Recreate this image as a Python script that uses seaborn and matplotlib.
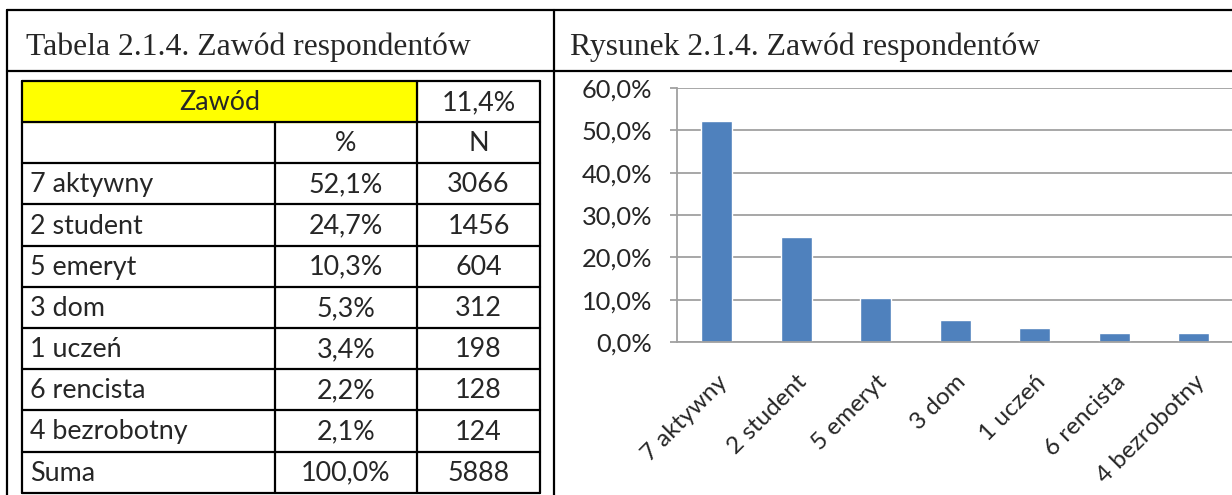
import numpy as np
import matplotlib
matplotlib.use("Agg")
import matplotlib.pyplot as plt
import seaborn as sns
from matplotlib.ticker import FuncFormatter

# data
categories = ["7 aktywny", "2 student", "5 emeryt", "3 dom", "1 uczeń", "6 rencista", "4 bezrobotny"]
percent = [52.1, 24.7, 10.3, 5.3, 3.4, 2.2, 2.1]
counts = [3066, 1456, 604, 312, 198, 128, 124]
total_label = "Suma"
total_percent = 100.0
total_count = 5888
header_label = "Zawód"
header_share = "11,4%"
table_title = "Tabela 2.1.4. Zawód respondentów"
chart_title = "Rysunek 2.1.4. Zawód respondentów"


def pl_pct(v):
    return f"{v:.1f}%".replace(".", ",")


sns.set_theme(style="white")
plt.rcParams["font.family"] = ["Lato", "DejaVu Sans"]

W, H = 1232, 495
fig = plt.figure(figsize=(W / 100, H / 100), dpi=100)

# background axes in pixel coordinates for the page layout
bg = fig.add_axes([0, 0, 1, 1])
bg.set_xlim(0, W)
bg.set_ylim(H, 0)
bg.axis("off")

lw = 1.6
# outer frame
bg.plot([7, 7], [10, H], color="black", lw=lw)
bg.plot([7, W], [10, 10], color="black", lw=lw)
bg.plot([7, W], [71, 71], color="black", lw=lw)
bg.plot([554, 554], [10, H], color="black", lw=lw)

bg.text(26, 47, table_title, family="Liberation Serif", fontsize=22.8, va="center", ha="left")
bg.text(570, 47, chart_title, family="Liberation Serif", fontsize=22.8, va="center", ha="left")

# inner table
cols = [22, 275, 417, 540]
row_y = [81, 122] + [122 + 41.2 * (i + 1) for i in range(9)]
bg.fill_between([cols[0], cols[2]], row_y[0], row_y[1], color="#FFFF00", zorder=0)
for y in row_y:
    bg.plot([cols[0], cols[3]], [y, y], color="black", lw=lw)
bg.plot([cols[0], cols[0]], [row_y[0], row_y[-1]], color="black", lw=lw)
bg.plot([cols[3], cols[3]], [row_y[0], row_y[-1]], color="black", lw=lw)
bg.plot([cols[2], cols[2]], [row_y[0], row_y[-1]], color="black", lw=lw)
bg.plot([cols[1], cols[1]], [row_y[1], row_y[-1]], color="black", lw=lw)

fs = 19.4
def mid(i):
    return (row_y[i] + row_y[i + 1]) / 2 + 1

bg.text((cols[0] + cols[2]) / 2, mid(0), header_label, ha="center", va="center", fontsize=fs)
bg.text((cols[2] + cols[3]) / 2, mid(0), header_share, ha="center", va="center", fontsize=fs)
bg.text((cols[1] + cols[2]) / 2, mid(1), "%", ha="center", va="center", fontsize=fs)
bg.text((cols[2] + cols[3]) / 2, mid(1), "N", ha="center", va="center", fontsize=fs)
rows = list(zip(categories, percent, counts)) + [(total_label, total_percent, total_count)]
for i, (name, p, n) in enumerate(rows):
    r = i + 2
    bg.text(cols[0] + 8, mid(r), name, ha="left", va="center", fontsize=fs)
    bg.text((cols[1] + cols[2]) / 2, mid(r), pl_pct(p), ha="center", va="center", fontsize=fs)
    bg.text((cols[2] + cols[3]) / 2, mid(r), str(n), ha="center", va="center", fontsize=fs)

# bar chart
ax_l, ax_r, ax_t, ax_b = 677, 1233.5, 88, 342
ax = fig.add_axes([ax_l / W, (H - ax_b) / H, (ax_r - ax_l) / W, (ax_b - ax_t) / H])
sns.barplot(x=categories, y=percent, color="#4F81BD", saturation=1, width=0.39, ax=ax)
ax.set_xlim(-0.5, len(categories) - 0.5)
ax.set_ylim(0, 60)
ax.set_yticks(np.arange(0, 61, 10))
ax.yaxis.set_major_formatter(FuncFormatter(lambda v, _: pl_pct(v)))
grid_c = "#A0A0A0"
ax.yaxis.grid(True, color=grid_c, lw=1.3)
ax.set_axisbelow(True)
for s in ["top", "right"]:
    ax.spines[s].set_visible(False)
for s in ["left", "bottom"]:
    ax.spines[s].set_color(grid_c)
    ax.spines[s].set_linewidth(1.3)
ax.set_xticks(np.arange(-0.5, len(categories), 1), minor=True)
ax.tick_params(axis="x", which="minor", length=6, width=1.3, color=grid_c, direction="out")
ax.tick_params(axis="x", which="major", length=0, pad=21, labelsize=17.5)
ax.tick_params(axis="y", length=5, width=1.3, color=grid_c, direction="out", labelsize=18.3, pad=13)
ax.tick_params(axis="y", left=True)
ax.tick_params(axis="x", bottom=True)
for lab in ax.get_xticklabels():
    lab.set_rotation(45)
    lab.set_ha("right")
    lab.set_rotation_mode("anchor")
ax.set_xlabel("")
ax.set_ylabel("")
bg.text(914, 113, header_label, ha="center", va="center", fontsize=21.5, fontweight="bold")

fig.savefig("out.png", dpi=100)
